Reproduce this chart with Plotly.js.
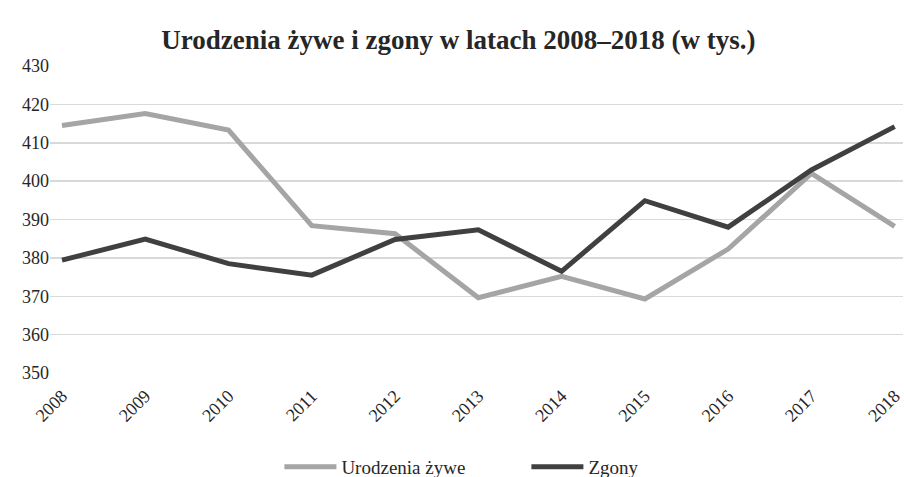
<!DOCTYPE html>
<html>
<head>
<meta charset="utf-8">
<script src="https://cdn.plot.ly/plotly-3.0.1.min.js"></script>
<style>html,body{margin:0;padding:0;background:#fff;}#chart{width:904px;height:477px;}</style>
</head>
<body>
<div id="chart"></div>
<script>
const years = ["2008","2009","2010","2011","2012","2013","2014","2015","2016","2017","2018"];
const births = [414.5, 417.6, 413.3, 388.4, 386.3, 369.6, 375.2, 369.3, 382.3, 402.0, 388.2];
const deaths = [379.4, 384.9, 378.5, 375.5, 384.8, 387.3, 376.5, 394.9, 388.0, 402.9, 414.2];
const yTicks = [350, 360, 370, 380, 390, 400, 410, 420, 430];

const serif = "'Liberation Serif', serif";
const traces = [
  {x: years, y: births, type: "scatter", mode: "lines", name: "Urodzenia żywe",
   line: {color: "#a5a5a5", width: 5}},
  {x: years, y: deaths, type: "scatter", mode: "lines", name: "Zgony",
   line: {color: "#404040", width: 5}}
];
const layout = {
  width: 904, height: 477,
  margin: {l: 50, r: 1, t: 66, b: 104},
  paper_bgcolor: "#fff", plot_bgcolor: "#fff",
  font: {family: serif, color: "#262626"},
  title: {text: "<b>Urodzenia żywe i zgony w latach 2008–2018 (w tys.)</b>",
          font: {family: serif, size: 27, color: "#262626"},
          x: 0.507, xanchor: "center", y: 0.918, yanchor: "middle", yref: "container"},
  xaxis: {type: "category", range: [-0.144, 10.1], showgrid: false, zeroline: false,
          showline: false, ticks: "", tickangle: -45, ticklabelstandoff: 8,
          tickfont: {family: serif, size: 18, color: "#262626"}},
  yaxis: {range: [350, 430], tickvals: yTicks, showgrid: true, gridcolor: "#d9d9d9", gridwidth: 1.5,
          zeroline: false, showline: false, ticks: "", ticklen: 0,
          tickfont: {family: serif, size: 18, color: "#262626"}},
  showlegend: true,
  legend: {orientation: "h", x: 0.5585, xanchor: "center", y: 0.021, yanchor: "middle", yref: "container",
           font: {family: serif, size: 19, color: "#262626"}, itemwidth: 52, traceorder: "normal",
           entrywidth: 180}
};
Plotly.newPlot("chart", traces, layout, {displayModeBar: false, staticPlot: true});
</script>
</body>
</html>
